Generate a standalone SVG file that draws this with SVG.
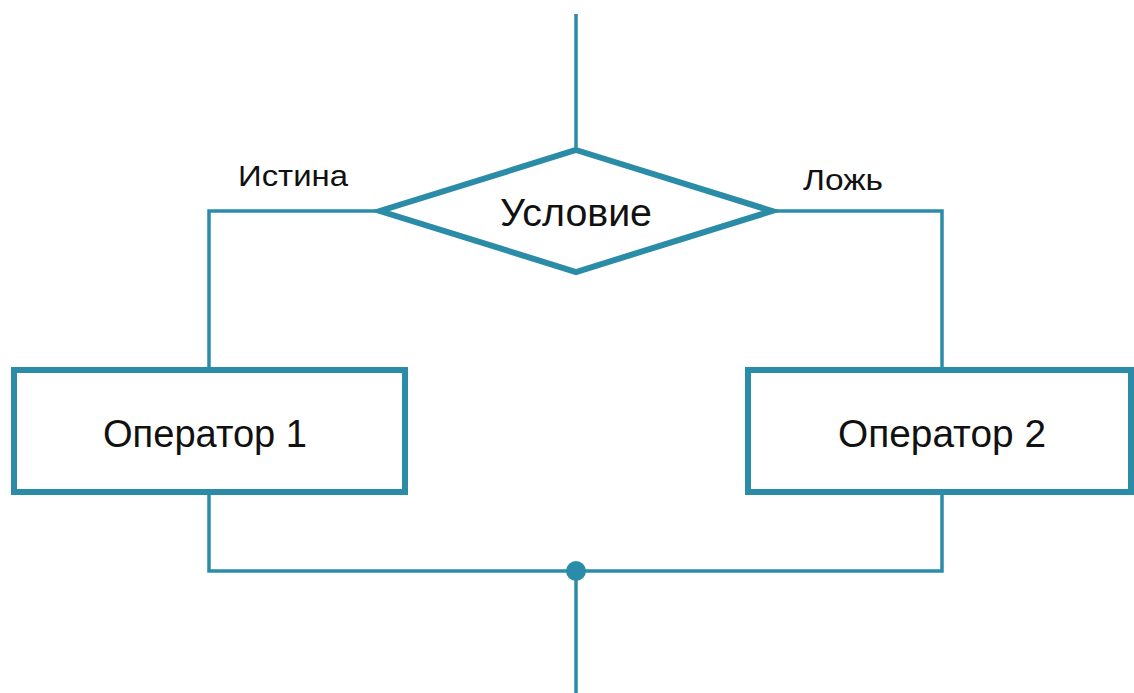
<svg xmlns="http://www.w3.org/2000/svg" width="1134" height="693" viewBox="0 0 1134 693">
  <style>
    .shape { fill: #ffffff; stroke: #2b8ca8; stroke-width: 6; }
    .wire { fill: none; stroke: #2b8ca8; stroke-width: 3.5; }
    .label { font-family: "Liberation Sans", Arial, sans-serif; fill: #111111; text-anchor: middle; }
    .big { font-size: 38px; }
    .small { font-size: 30px; }
  </style>
  <rect width="1134" height="693" fill="#ffffff"/>

  <g id="connectors">
    <line class="wire" x1="576" y1="14" x2="576" y2="150"/>
    <polyline class="wire" points="380,211 209,211 209,370"/>
    <polyline class="wire" points="772,211 942,211 942,370"/>
    <polyline class="wire" points="209,492 209,571 942,571 942,492"/>
    <line class="wire" x1="576" y1="571" x2="576" y2="693"/>
    <circle cx="576" cy="571" r="10" fill="#2b8ca8"/>
  </g>

  <g id="condition">
    <polygon class="shape" points="576,150 772,211 576,272 380,211"/>
    <text class="label big" x="576" y="226" textLength="152" lengthAdjust="spacingAndGlyphs">Условие</text>
  </g>

  <g id="op1">
    <rect class="shape" x="14" y="370" width="391" height="122"/>
    <text class="label big" x="205" y="447" textLength="204" lengthAdjust="spacingAndGlyphs">Оператор 1</text>
  </g>

  <g id="op2">
    <rect class="shape" x="748" y="370" width="383" height="122"/>
    <text class="label big" x="942" y="447" textLength="208" lengthAdjust="spacingAndGlyphs">Оператор 2</text>
  </g>

  <g id="branch-labels">
    <text class="label small" x="293" y="186" textLength="110" lengthAdjust="spacingAndGlyphs">Истина</text>
    <text class="label small" x="843" y="190" textLength="80" lengthAdjust="spacingAndGlyphs">Ложь</text>
  </g>
</svg>
